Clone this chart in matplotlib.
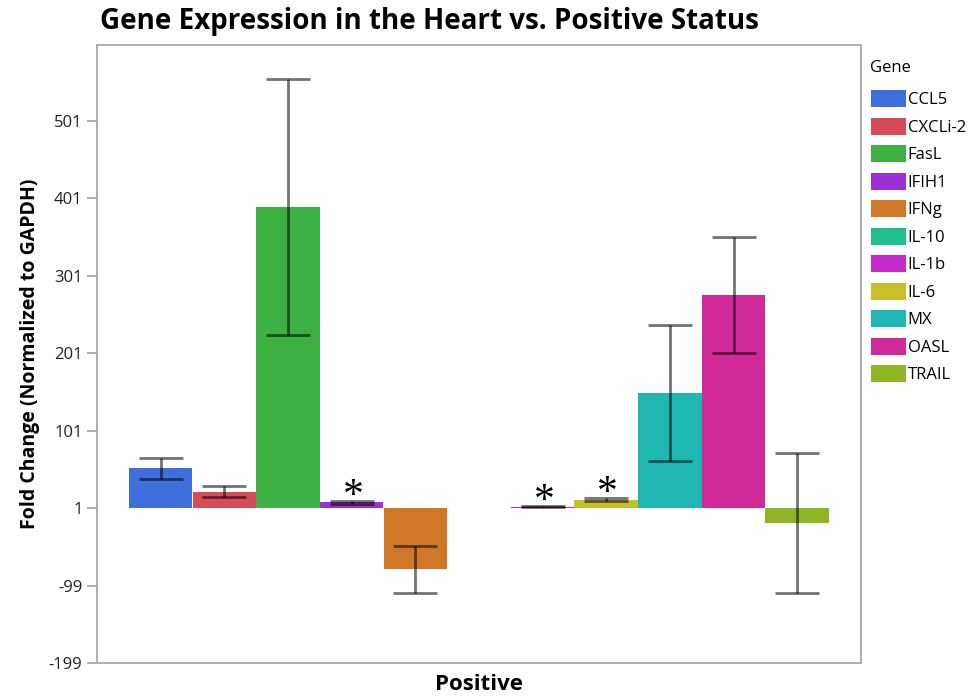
import matplotlib
matplotlib.use('Agg')
import matplotlib.pyplot as plt
from matplotlib.patches import Patch

# Daten
genes = ['CCL5', 'CXCLi-2', 'FasL', 'IFIH1', 'IFNg', 'IL-10', 'IL-1b', 'IL-6', 'MX', 'OASL', 'TRAIL']
fold_change = [52.5, 22, 390, 8.7, -78, 1, 3, 12, 150, 276, -18]
errors = [13.5, 7, 165, 2, 30, 0, 1, 2.2, 88, 75, 90]
colors = ['#3F6FDB', '#D64B58', '#3CB043', '#9B30D9', '#D07828', '#21BE8E',
          '#C62ACF', '#C8C02B', '#20B7B3', '#D02A98', '#8EB523']
significant = ['IFIH1', 'IL-1b', 'IL-6']
baseline = 1
yticks = [-199, -99, 1, 101, 201, 301, 401, 501]

plt.rcParams['font.family'] = ['Open Sans', 'DejaVu Sans']

fig = plt.figure(figsize=(9.77, 6.98), dpi=100)
ax = fig.add_axes([97 / 977, 1 - 663 / 698, (861 - 97) / 977, (663 - 45) / 698])

x = list(range(len(genes)))
heights = [v - baseline for v in fold_change]
ax.bar(x, heights, width=1.0, bottom=baseline, color=colors, edgecolor='none')

for i, (v, e) in enumerate(zip(fold_change, errors)):
    if e > 0:
        ax.errorbar(i, v, yerr=e, fmt='none', ecolor='black', alpha=0.55,
                    elinewidth=2, capsize=15.5, capthick=2)

# Sternchen für signifikante Werte
for g in significant:
    i = genes.index(g)
    top = fold_change[i] + errors[i]
    ax.annotate('*', xy=(i, top), xytext=(1, -11), textcoords='offset points',
                ha='center', va='bottom', fontsize=30, family='Liberation Serif')

ax.set_xlim(-1, 11)
ax.set_ylim(-199, 599)
ax.set_yticks(yticks)
ax.set_yticklabels([str(t) for t in yticks], fontsize=12, color='#222222')
ax.set_xticks([])
ax.tick_params(axis='y', length=7, width=1.2, color='#A0A0A0')
for s in ax.spines.values():
    s.set_color('#A8A8A8')
    s.set_linewidth(1.3)

ax.set_ylabel('Fold Change (Normalized to GAPDH)', fontsize=14, fontweight='bold', labelpad=6)
ax.set_xlabel('Positive', fontsize=16, fontweight='bold', labelpad=8)
fig.text(100 / 977, 1 - 22 / 698, 'Gene Expression in the Heart vs. Positive Status',
         fontsize=20, fontweight='bold', ha='left', va='center')

# Legende (Titel separat gesetzt)
fig.text(870 / 977, 1 - 68 / 698, 'Gene', fontsize=12, ha='left', va='center')
handles = [Patch(facecolor=c, edgecolor='none') for c in colors]
leg = fig.legend(handles, genes, loc='upper left',
                 bbox_to_anchor=(871 / 977, 1 - 90 / 698), frameon=False,
                 fontsize=12, handlelength=2.1, handleheight=1.2,
                 labelspacing=0.56, handletextpad=0.1, borderaxespad=0, borderpad=0)

plt.savefig('out.png', dpi=100)
